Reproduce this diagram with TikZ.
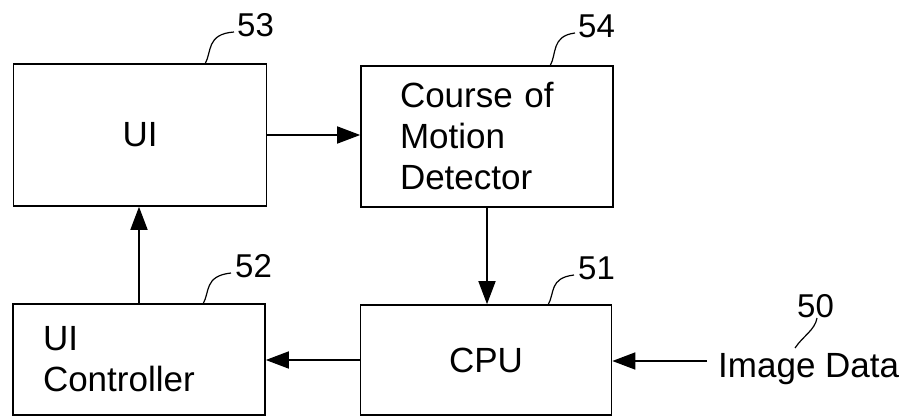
\documentclass[tikz,border=0pt]{standalone}
\usepackage{fontspec}
\setmainfont{Liberation Sans}
\usetikzlibrary{arrows.meta}
\begin{document}
\begin{tikzpicture}[x=1pt,y=-1pt,
  box/.style={draw, line width=1.6pt, inner sep=0pt, font=\fontsize{35}{41}\selectfont},
  arr/.style={line width=1.6pt, -{Triangle[length=23pt,width=17pt]}},
  leader/.style={line width=1.2pt},
  num/.style={inner sep=0pt, anchor=base west, font=\fontsize{33}{40}\selectfont},
  txt/.style={inner sep=0pt, anchor=base west, font=\fontsize{35}{41}\selectfont}]
\useasboundingbox (0,0) rectangle (904,417);
% boxes
\node[box, minimum width=253pt, minimum height=142pt] (ui) at (140,135) {UI};
\node[box, minimum width=252pt, minimum height=141pt, text width=174pt, align=left] (cmd) at (487,136.5) {Course of\\Motion\\Detector};
\node[box, minimum width=252pt, minimum height=111pt, text width=192pt, align=left] (uic) at (139,359.5) {UI\\Controller};
\node[box, minimum width=251pt, minimum height=110pt] (cpu) at (486,360) {CPU};
% input text
\node[txt] (img) at (718,377) {Image Data};
% connectors
\draw[arr] (ui.east) -- (ui.east -| cmd.west);
\draw[arr] (cmd.south) -- (cmd.south |- cpu.north);
\draw[arr] (cpu.west) -- (cpu.west -| uic.east);
\draw[arr] (uic.north) -- (uic.north |- ui.south);
\coordinate (imgstart) at (707,361);
\draw[arr] (imgstart) -- (imgstart -| cpu.east);
% reference numerals
\node[num] (l53) at (237,37) {53};
\node[num] (l54) at (578,38) {54};
\node[num] (l52) at (235,277) {52};
\node[num] (l51) at (578,279) {51};
\node[num] (l50) at (797,317) {50};
\coordinate (a53) at (205,64);  \coordinate (e53) at (234,32);
\coordinate (a54) at (550,66);  \coordinate (e54) at (575,33);
\coordinate (a52) at (203,304); \coordinate (e52) at (231,273);
\coordinate (a51) at (548,305); \coordinate (e51) at (574,275);
\coordinate (a50) at (795,348); \coordinate (e50) at (817,318);
\draw[leader] (a53) .. controls (212,52) and (206,34) .. (e53);
\draw[leader] (a54) .. controls (557,54) and (551,36) .. (e54);
\draw[leader] (a52) .. controls (210,292) and (204,276) .. (e52);
\draw[leader] (a51) .. controls (555,293) and (549,278) .. (e51);
\draw[leader] (a50) .. controls (803,336) and (815,330) .. (e50);
\end{tikzpicture}
\end{document}
